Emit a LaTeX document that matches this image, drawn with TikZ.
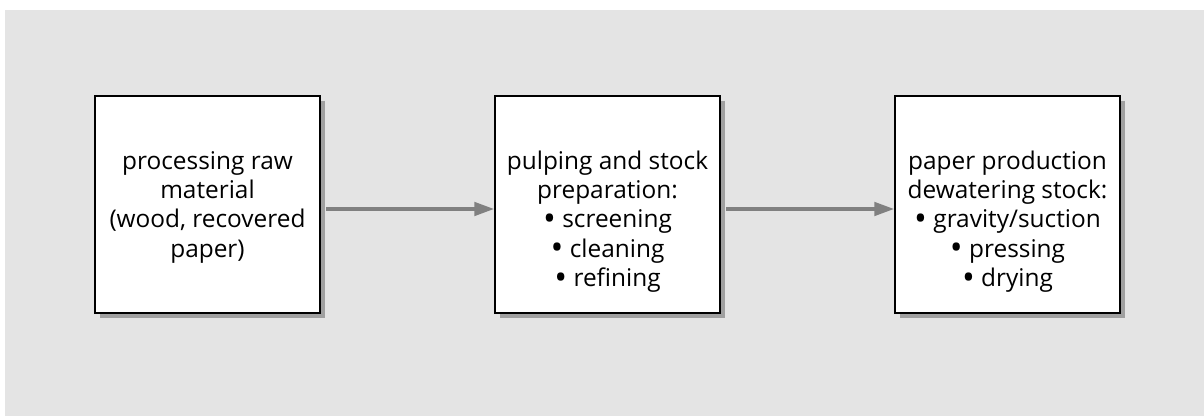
\documentclass[tikz,border=0pt]{standalone}
\usepackage{fontspec}
\usepackage{graphicx}
\setmainfont{Open Sans}
\usetikzlibrary{arrows.meta}
\definecolor{bggray}{HTML}{E4E4E4}
\definecolor{shadowgray}{HTML}{A0A0A0}
\definecolor{arrowgray}{HTML}{808080}
\newcommand{\bul}{\raisebox{-0.1em}{\scalebox{1.4}{•}}}
\tikzset{
  stagebox/.style={draw=black, line width=1.1pt, fill=white, minimum width=225*0.75pt, minimum height=217*0.75pt, inner sep=0pt},
  stagetext/.style={anchor=north, align=center, inner sep=0pt, font=\fontsize{18.3pt}{22pt}\selectfont},
  flow/.style={draw=arrowgray, line width=2.8pt, -{Triangle[length=15pt,width=10pt]}}
}
\begin{document}
\begin{tikzpicture}[x=0.75pt,y=0.75pt]
\useasboundingbox (0,0) rectangle (1204,-416);
\fill[bggray] (5,-10) rectangle (1204,-416);
% shadows
\fill[shadowgray] (100,-101) rectangle (325,-318);
\fill[shadowgray] (500,-101) rectangle (725,-318);
\fill[shadowgray] (900,-101) rectangle (1125,-318);
\node[stagebox] (b1) at (207.5,-204.5) {};
\node[stagebox] (b2) at (607.5,-204.5) {};
\node[stagebox] (b3) at (1007.5,-204.5) {};
\node[stagetext] (t1) at (207.5,-148.5) {\strut processing raw\\material\\(wood, recovered\\paper)};
\node[stagetext] (t2) at (607.5,-148.5) {\strut pulping and stock\\preparation:\\\bul\ screening\\\bul\ cleaning\\\bul\ refining};
\node[stagetext] (t3) at (1007.5,-148.5) {\strut paper production\\dewatering stock:\\\bul\ gravity/suction\\\bul\ pressing\\\bul\ drying};
\coordinate (s1) at ([xshift=4]b1.east);
\coordinate (s2) at ([xshift=4]b2.east);
\draw[flow] (s1 |- 0,-209) -- (b2.west |- 0,-209);
\draw[flow] (s2 |- 0,-209) -- (b3.west |- 0,-209);
\end{tikzpicture}
\end{document}
